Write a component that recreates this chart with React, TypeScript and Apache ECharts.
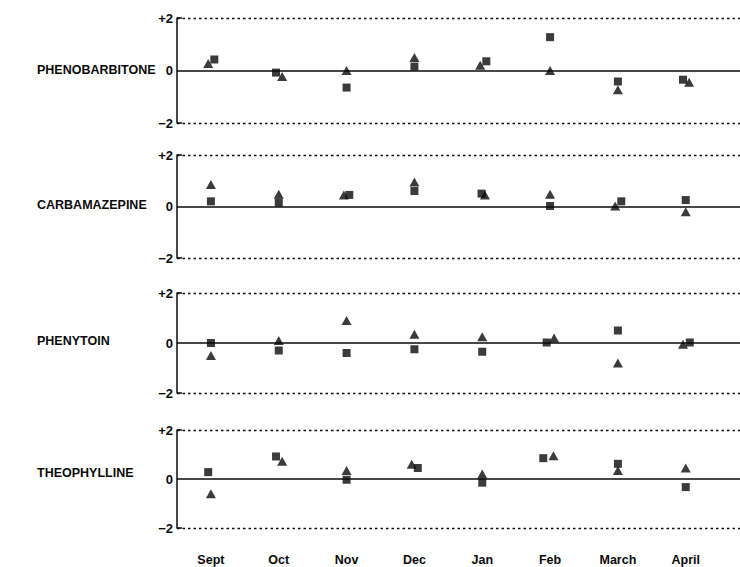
import React, { useEffect, useRef } from "react";
import * as echarts from "echarts";

const months = ["Sept", "Oct", "Nov", "Dec", "Jan", "Feb", "March", "April"];
const drugs = ["PHENOBARBITONE", "CARBAMAZEPINE", "PHENYTOIN", "THEOPHYLLINE"];
const yTicks = [-2, 0, 2];

// triangle values per drug (month order)
const triPheno = [0.27, -0.23, 0.0, 0.5, 0.2, 0.0, -0.73, -0.45];
const sqPheno = [0.42, -0.08, -0.65, 0.15, 0.35, 1.27, -0.42, -0.35];
const triCarba = [0.85, 0.48, 0.45, 0.95, 0.45, 0.48, 0.02, -0.2];
const sqCarba = [0.2, 0.15, 0.45, 0.6, 0.5, 0.02, 0.2, 0.25];
const triPheny = [-0.5, 0.1, 0.9, 0.35, 0.25, 0.2, -0.8, -0.05];
const sqPheny = [0.0, -0.3, -0.4, -0.25, -0.35, 0.02, 0.5, 0.02];
const triTheo = [-0.6, 0.72, 0.35, 0.6, 0.2, 0.95, 0.35, 0.45];
const sqTheo = [0.28, 0.92, -0.03, 0.45, -0.15, 0.85, 0.62, -0.33];

// horizontal jitter (in month units) where the two markers sit side by side
const triJitter = [
  [-0.04, 0.05, 0, 0, -0.03, 0, 0, 0.05],
  [0, 0, -0.04, 0, 0.04, 0, -0.04, 0],
  [0, 0, 0, 0, 0, 0.06, 0, -0.04],
  [0, 0.05, 0, -0.04, 0, 0.05, 0, 0],
];
const sqJitter = [
  [0.05, -0.04, 0, 0, 0.06, 0, 0, -0.04],
  [0, 0, 0.04, 0, -0.01, 0, 0.05, 0],
  [0, 0, 0, 0, 0, -0.05, 0, 0.06],
  [-0.04, -0.04, 0, 0.05, 0, -0.1, 0, 0],
];

const triVals = [triPheno, triCarba, triPheny, triTheo];
const sqVals = [sqPheno, sqCarba, sqPheny, sqTheo];

export default function App() {
  const ref = useRef<HTMLDivElement>(null);
  useEffect(() => {
    if (!ref.current) return;
    const chart = echarts.init(ref.current, null, { renderer: "svg" });
    const grids = [
      { top: 18, height: 105 },
      { top: 155, height: 103 },
      { top: 293, height: 100 },
      { top: 430, height: 98 },
    ];
    const labelCenters = [70, 205, 341, 473];
    const ink = "#0a0a0a";
    const font = "Liberation Sans, Arial, sans-serif";
    const option: any = {
      animation: false,
      backgroundColor: "#fff",
      title: drugs.map((d, i) => ({
        text: d,
        left: 32,
        top: labelCenters[i] - 12,
        textStyle: {
          fontFamily: font,
          fontWeight: "bold",
          fontSize: 12.5,
          color: ink,
        },
      })),
      grid: grids.map((g) => ({ left: 177, right: 0, top: g.top, height: g.height })),
      xAxis: grids.map((_, i) => ({
        type: "value",
        gridIndex: i,
        min: -0.5,
        max: 7.8,
        axisLine: { show: false },
        axisTick: { show: false },
        splitLine: { show: false },
        axisLabel:
          i === 3
            ? {
                show: true,
                customValues: months.map((_, k) => k),
                formatter: (v: number) => months[Math.round(v)] ?? "",
                margin: 25,
                fontFamily: font,
                fontWeight: "bold",
                fontSize: 12.5,
                color: ink,
              }
            : { show: false },
      })),
      yAxis: grids.map((_, i) => ({
        type: "value",
        gridIndex: i,
        min: -2,
        max: 2,
        interval: 2,
        axisLine: { show: true, onZero: false, lineStyle: { color: ink, width: 1.5 } },
        axisTick: {
          show: true,
          inside: true,
          length: 5,
          customValues: [-2, 2],
          lineStyle: { color: ink, width: 1.5 },
        },
        axisLabel: {
          customValues: yTicks,
          formatter: (v: number) => (v > 0 ? "+" + v : v < 0 ? "\u2212" + Math.abs(v) : "0"),
          margin: 4,
          fontFamily: font,
          fontWeight: "bold",
          fontSize: 13,
          color: ink,
        },
        splitLine: {
          show: true,
          lineStyle: { color: ink, width: 1.3, type: [2.5, 3] },
        },
      })),
      series: grids.flatMap((_, i) => [
        {
          type: "scatter",
          xAxisIndex: i,
          yAxisIndex: i,
          symbol: "triangle",
          symbolSize: [10, 9],
          itemStyle: { color: ink },
          data: triVals[i].map((v, k) => [k + triJitter[i][k], v]),
          markLine: {
            silent: true,
            symbol: "none",
            label: { show: false },
            lineStyle: { color: ink, width: 1.6, type: "solid" },
            data: [{ yAxis: 0 }],
          },
          z: 3,
        },
        {
          type: "scatter",
          xAxisIndex: i,
          yAxisIndex: i,
          symbol: "rect",
          symbolSize: 8,
          itemStyle: { color: ink },
          data: sqVals[i].map((v, k) => [k + sqJitter[i][k], v]),
          z: 4,
        },
      ]),
    };
    chart.setOption(option);
    return () => chart.dispose();
  }, []);
  return (
    <div
      ref={ref}
      style={{ position: "absolute", left: 0, top: 0, width: 740, height: 567 }}
    />
  );
}
